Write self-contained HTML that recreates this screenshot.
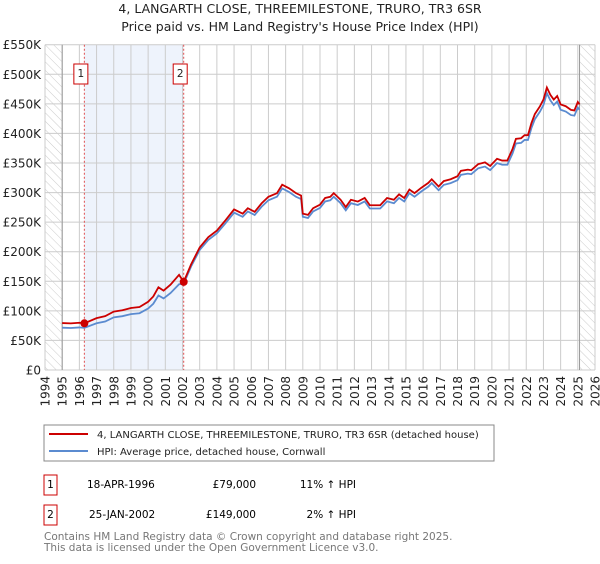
<!DOCTYPE html>
<html><head><meta charset="utf-8"><style>
body{margin:0;background:#fff;font-family:"DejaVu Sans","Liberation Sans",sans-serif;}
svg text{font-family:"DejaVu Sans","Liberation Sans",sans-serif;}
</style></head><body>
<svg id="chart" width="600" height="560" viewBox="0 0 600 560" xmlns="http://www.w3.org/2000/svg">
<defs><pattern id="hatch" width="6" height="6" patternUnits="userSpaceOnUse" patternTransform="rotate(-45)"><line x1="0" y1="0" x2="0" y2="6" stroke="#ccc" stroke-width="1"/></pattern></defs>
<text x="300" y="13" text-anchor="middle" font-size="12.5" fill="#222">4, LANGARTH CLOSE, THREEMILESTONE, TRURO, TR3 6SR</text>
<text x="300" y="31" text-anchor="middle" font-size="12.5" fill="#222">Price paid vs. HM Land Registry's House Price Index (HPI)</text>
<g id="grid"></g><g id="series"></g><g id="axes"></g>
<rect x="44" y="425" width="450" height="36" fill="#fff" stroke="#888"/>
<line x1="49" y1="434" x2="88" y2="434" stroke="#cc0000" stroke-width="2"/>
<text x="97" y="438" font-size="10" fill="#222">4, LANGARTH CLOSE, THREEMILESTONE, TRURO, TR3 6SR (detached house)</text>
<line x1="49" y1="451" x2="88" y2="451" stroke="#5b8bd0" stroke-width="2"/>
<text x="97" y="455" font-size="10" fill="#222">HPI: Average price, detached house, Cornwall</text>
<g>
<rect x="44" y="475" width="13" height="20" fill="#fff" stroke="#cc0000"/>
<text x="50.5" y="488" text-anchor="middle" font-size="10.5">1</text>
<text x="87" y="488" font-size="10.5">18-APR-1996</text>
<text x="256" y="488" text-anchor="end" font-size="10.5">£79,000</text>
<text x="356" y="488" text-anchor="end" font-size="10.5">11% ↑ HPI</text></g>
<g>
<rect x="44" y="505" width="13" height="20" fill="#fff" stroke="#cc0000"/>
<text x="50.5" y="518" text-anchor="middle" font-size="10.5">2</text>
<text x="89" y="518" font-size="10.5">25-JAN-2002</text>
<text x="256" y="518" text-anchor="end" font-size="10.5">£149,000</text>
<text x="356" y="518" text-anchor="end" font-size="10.5">2% ↑ HPI</text></g>
<text x="44" y="540" font-size="10.5" fill="#777">Contains HM Land Registry data © Crown copyright and database right 2025.</text>
<text x="44" y="551" font-size="10.5" fill="#777">This data is licensed under the Open Government Licence v3.0.</text>
</svg>
<script>
const hpiYears=[1995,1995.5,1996,1996.29,1997,1997.5,1998,1998.5,1999,1999.5,2000,2000.3,2000.6,2000.9,2001.3,2001.8,2002.07,2002.5,2003,2003.5,2004,2004.5,2005,2005.5,2005.8,2006.2,2006.6,2007,2007.5,2007.8,2008.2,2008.6,2008.9,2009,2009.3,2009.6,2010,2010.3,2010.6,2010.8,2011.2,2011.5,2011.8,2012.2,2012.6,2012.9,2013.5,2013.9,2014.3,2014.6,2014.9,2015.2,2015.5,2015.9,2016.3,2016.5,2016.7,2016.9,2017.2,2017.6,2018,2018.2,2018.6,2018.8,2019.2,2019.6,2019.9,2020.3,2020.6,2020.9,2021.2,2021.4,2021.7,2021.9,2022.1,2022.3,2022.5,2022.8,2023,2023.2,2023.4,2023.6,2023.8,2024,2024.3,2024.6,2024.8,2025,2025.1];
const hpiValues=[71500,71000,72000,71200,79000,82000,89000,91000,94500,96000,104000,112000,126000,121000,130000,145000,146000,175000,203000,220000,231000,248000,266000,259000,268000,262000,276000,287000,293000,307000,301000,293000,289000,259000,257000,268000,274000,285000,287000,293000,282000,270000,282000,279000,285000,273000,273000,285000,282000,291000,285000,299000,293000,302000,310000,316000,310000,304000,313000,316000,321000,330000,332000,331000,341000,344000,338000,350000,347000,347000,366000,383000,384000,389000,389000,409000,424000,437000,448000,468000,456000,448000,454000,440000,437000,431000,430000,444000,440000];
const saleYears=[1996.29,2002.07];
const salePrices=[79000,149000];
const saleLabels=["1","2"];
const yTicks=[0,50000,100000,150000,200000,250000,300000,350000,400000,450000,500000,550000];
const yTickLabels=["£0","£50K","£100K","£150K","£200K","£250K","£300K","£350K","£400K","£450K","£500K","£550K"];
const xTicks=[1994,1995,1996,1997,1998,1999,2000,2001,2002,2003,2004,2005,2006,2007,2008,2009,2010,2011,2012,2013,2014,2015,2016,2017,2018,2019,2020,2021,2022,2023,2024,2025,2026];
const NS="http://www.w3.org/2000/svg";
const L=45,R=595,T=44.7,B=370;
const xS=y=>L+(y-1994)/(2026-1994)*(R-L);
const yS=v=>B-v/550000*(B-T);
function mk(tag,attrs,parent){const e=document.createElementNS(NS,tag);for(const k in attrs)e.setAttribute(k,attrs[k]);parent.appendChild(e);return e;}
const grid=document.getElementById('grid'),ser=document.getElementById('series'),ax=document.getElementById('axes');
const shade=mk('rect',{x:xS(saleYears[0]),y:T,width:xS(saleYears[1])-xS(saleYears[0]),height:B-T,fill:'#eef3fc'},grid);


const h1=mk('rect',{x:L,y:T,width:xS(1995)-L,height:B-T,fill:'url(#hatch)'},grid);


const h2=mk('rect',{x:xS(2025.1),y:T,width:R-xS(2025.1),height:B-T,fill:'url(#hatch)'},grid);


yTicks.forEach((v,i)=>{
 const g=mk('line',{x1:L,x2:R,y1:yS(v),y2:yS(v),stroke:'#ccc','stroke-width':1},grid);
 
 
 const t=mk('text',{x:L-4,y:yS(v)+4.5,'text-anchor':'end','font-size':12,fill:'#222'},ax);
 t.textContent=yTickLabels[i];
 
 
});
xTicks.forEach(y=>{
 const g=mk('line',{x1:xS(y),x2:xS(y),y1:T,y2:B,stroke:'#ccc','stroke-width':1},grid);
 
 
 const t=mk('text',{x:xS(y)+4.5,y:B+6,'text-anchor':'end','font-size':12,fill:'#222',transform:`rotate(-90 ${xS(y)+4.5} ${B+6})`},ax);
 t.textContent=y;
 
 
});
const al=mk('line',{x1:xS(1995),x2:xS(1995),y1:T,y2:B,stroke:'#999'},grid);


const ar=mk('line',{x1:xS(2025.1),x2:xS(2025.1),y1:T,y2:B,stroke:'#999'},grid);


saleYears.forEach((y,i)=>{
 const l=mk('line',{x1:xS(y),x2:xS(y),y1:T,y2:B,stroke:'#e05050','stroke-dasharray':'2,2'},grid);
 
 
 const bx=xS(y)-10.5;
 const r=mk('rect',{x:bx,y:64,width:14,height:20,fill:'#fff',stroke:'#cc0000'},ax);
 
 
 const t=mk('text',{x:bx+7,y:77,'text-anchor':'middle','font-size':10.5,fill:'#222'},ax);
 t.textContent=saleLabels[i];
 
 
});
function interp(y){for(let i=0;i<hpiYears.length-1;i++){if(y<=hpiYears[i+1]){const f=(y-hpiYears[i])/(hpiYears[i+1]-hpiYears[i]);return hpiValues[i]+f*(hpiValues[i+1]-hpiValues[i]);}}return hpiValues[hpiValues.length-1];}
const blue=hpiYears.map((y,i)=>xS(y)+','+yS(hpiValues[i])).join(' ');
const bp=mk('polyline',{points:blue,fill:'none',stroke:'#5b8bd0','stroke-width':1.8},ser);


const r1=salePrices[0]/interp(saleYears[0]),r2=salePrices[1]/interp(saleYears[1]);
const red=hpiYears.map((y,i)=>xS(y)+','+yS(hpiValues[i]*(y<saleYears[1]?r1:r2))).join(' ');
const rp=mk('polyline',{points:red,fill:'none',stroke:'#cc0000','stroke-width':1.8},ser);


saleYears.forEach((y,i)=>{
 const c=mk('circle',{cx:xS(y),cy:yS(salePrices[i]),r:4,fill:'#cc0000'},ser);
 
 
});
</script>
</body></html>
